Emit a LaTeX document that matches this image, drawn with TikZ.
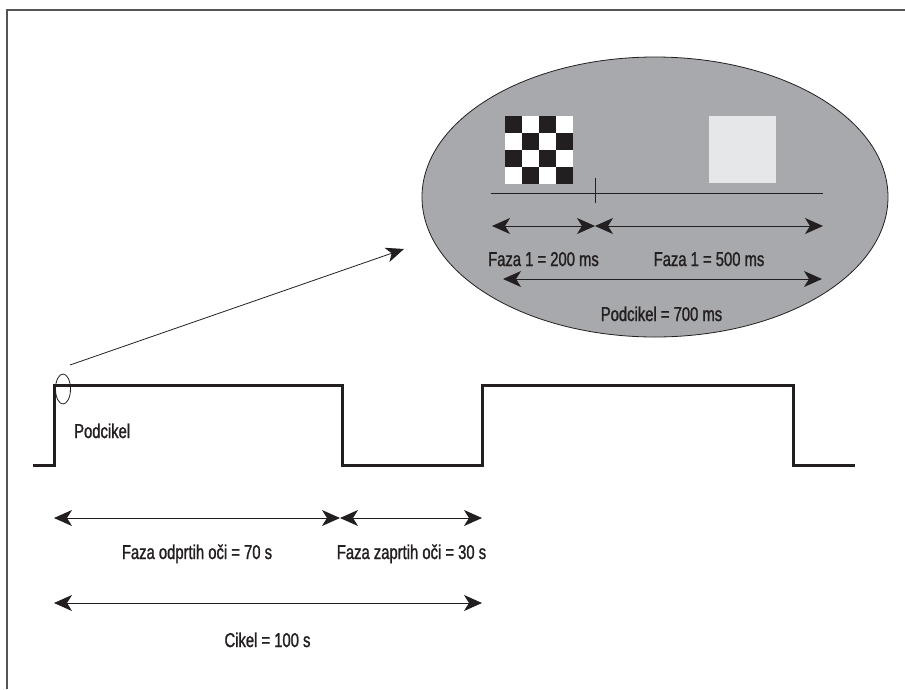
\documentclass[tikz,border=0pt]{standalone}
\usepackage{fontspec}
\setmainfont{Liberation Sans}[FakeStretch=0.74,FakeBold=1.3]
\usepackage{tikz}
\usetikzlibrary{arrows.meta,positioning,shapes.geometric}
\definecolor{inkx}{HTML}{231F20}
\definecolor{ovalx}{HTML}{A7A9AC}
\definecolor{palex}{HTML}{E6E7E8}
\definecolor{framex}{HTML}{555555}
\tikzset{
  dim/.style={{Stealth[length=18pt,width=16pt,inset=5pt]}-{Stealth[length=18pt,width=16pt,inset=5pt]},line width=1pt,inkx},
  ptr/.style={-{Stealth[length=18pt,width=15pt,inset=5pt]},line width=0.8pt,inkx},
  lbl/.style={font=\fontsize{20}{22}\selectfont,text=inkx,inner sep=0pt,anchor=base},
  wave/.style={line width=3pt,inkx}
}

\begin{document}
\begin{tikzpicture}[x=1pt,y=-1pt]
\useasboundingbox (0,0) rectangle (905,689);
% frame
\draw[framex,line width=1.5pt] (7,689) -- (7,10) -- (905,10);
% zoomed sub-cycle
\draw[inkx,fill=ovalx,line width=0.8pt] (655,197) ellipse [x radius=233,y radius=140];
\foreach \i in {0,...,3}{
  \foreach \j in {0,...,3}{
    \pgfmathparse{int(mod(\i+\j,2))}
    \ifnum\pgfmathresult=0 \def\cellc{inkx}\else\def\cellc{white}\fi
    \fill[\cellc] (505+17*\i,116+17*\j) rectangle ++(17,17);
  }
}
\fill[palex] (709,116) rectangle (776,183);
\coordinate (sa) at (491,193);
\coordinate (sb) at (823,193);
\coordinate (tk) at (595,193);
\draw[inkx,line width=1pt] (sa) -- (sb);
\draw[inkx,line width=1pt] ([yshift=-10pt]tk) -- ([yshift=15pt]tk);
\coordinate (f0) at (492,226);
\coordinate (f1) at (595,226);
\coordinate (f2) at (823,226);
\draw[dim] (f0) -- (f1);
\draw[dim] (f1) -- (f2);
\coordinate (p0) at (503,279);
\coordinate (p1) at (822,279);
\draw[dim] (p0) -- (p1);
\node[lbl] (faza1) at (543.5,266) {Faza 1 = 200 ms};
\node[lbl] (faza2) at (709,266) {Faza 1 = 500 ms};
\node[lbl] (podc) at (661.5,321) {Podcikel = 700 ms};
% signal
\draw[wave] (33,465) -- (54,465) -- (54,385) -- (342,385) -- (342,465)
  -- (482,465) -- (482,385) -- (793,385) -- (793,465) -- (855,465);
\node[draw=inkx,line width=0.8pt,ellipse,minimum width=15pt,minimum height=30pt,inner sep=0pt] (mark) at (63,389) {};
\coordinate (ptrs) at (70,365);
\coordinate (ptre) at (404,249);
\draw[ptr] (ptrs) -- (ptre);
\node[lbl,anchor=base west] (sub) at (74,438) {Podcikel};
\coordinate (c0) at (54,518);
\coordinate (c1) at (340,518);
\coordinate (c2) at (482,518);
\draw[dim] (c0) -- (c1);
\draw[dim] (c1) -- (c2);
\coordinate (d0) at (54,603);
\coordinate (d1) at (482,603);
\draw[dim] (d0) -- (d1);
\node[lbl] (open) at (197,559) {Faza odprtih oči = 70 s};
\node[lbl] (shut) at (411.5,559) {Faza zaprtih oči = 30 s};
\node[lbl] (cyc) at (267.5,647) {Cikel = 100 s};
\end{tikzpicture}
\end{document}
